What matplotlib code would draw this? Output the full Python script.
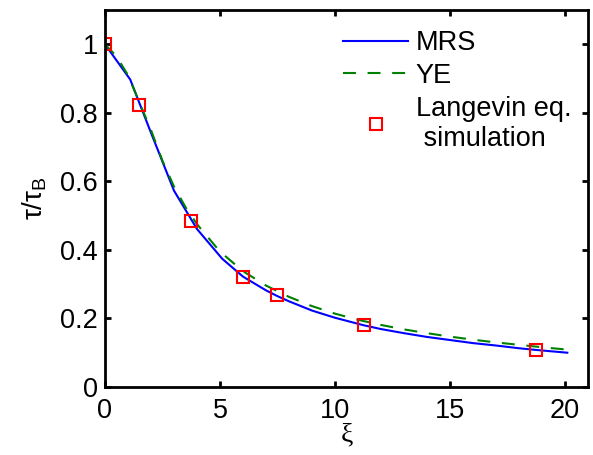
import numpy as np
import matplotlib
matplotlib.use('Agg')
import matplotlib.pyplot as plt

plt.rcParams['font.family'] = ['Liberation Sans', 'DejaVu Sans']
plt.rcParams['mathtext.fontset'] = 'custom'
plt.rcParams['mathtext.rm'] = 'Liberation Sans'
plt.rcParams['mathtext.it'] = 'Liberation Sans'

# MRS curve
xi_mrs = [0, 1.1, 2, 3, 4, 5.1, 6, 7, 7.5, 8, 9, 10, 11.25, 12, 13, 14, 15, 16, 17, 18, 18.75, 20.1]
tau_mrs = [1.0, 0.897, 0.742, 0.573, 0.461, 0.374, 0.322, 0.282, 0.265, 0.250, 0.223, 0.202,
           0.180, 0.169, 0.157, 0.146, 0.137, 0.128, 0.121, 0.113, 0.108, 0.100]

# YE curve
xi_ye = [0, 0.5, 1, 1.5, 2, 2.5, 3, 3.5, 4, 5, 6, 7, 8, 9, 10, 11, 12, 13, 14, 15, 16, 17, 18, 19, 20.1]
tau_ye = [1.0, 0.965, 0.91, 0.83, 0.75, 0.66, 0.585, 0.525, 0.475, 0.395, 0.338, 0.296, 0.263,
          0.236, 0.214, 0.196, 0.181, 0.168, 0.157, 0.147, 0.138, 0.130, 0.123, 0.116, 0.109]

# Langevin eq. simulation
xi_sim = [0, 1.5, 3.75, 6, 7.5, 11.25, 18.75]
tau_sim = [1.0, 0.822, 0.485, 0.322, 0.267, 0.182, 0.108]

fig = plt.figure(figsize=(5.93, 4.55), dpi=100)
ax = fig.add_axes([0.177, 0.1495, 0.8146, 0.8285])

ax.plot(xi_mrs, tau_mrs, color='#0000ff', lw=1.5, label='MRS')
ax.plot(xi_ye, tau_ye, color='#008000', lw=1.5, ls=(0, (6.2, 5.6)), label='YE')
ax.plot(xi_sim, tau_sim, ls='none', marker='s', ms=8, mfc='none', mec='#ff0000', mew=1.5,
        label='Langevin eq.\n simulation')

ax.set_xlim(0, 21)
ax.set_ylim(0, 1.1)
ax.set_xticks([0, 5, 10, 15, 20])
ax.set_yticks([0, 0.2, 0.4, 0.6, 0.8, 1.0])
ax.set_yticklabels(['0', '0.2', '0.4', '0.6', '0.8', '1'])

for s in ax.spines.values():
    s.set_linewidth(2)
ax.tick_params(direction='in', length=4, width=2, top=True, right=True, labelsize=19.5)
ax.tick_params(axis='x', pad=8)
ax.tick_params(axis='y', pad=5)

ax.set_xlabel('ξ', fontsize=20, family='Liberation Serif', labelpad=-1)
ax.set_ylabel(r'$\tau/\tau_\mathrm{B}$', fontsize=20, labelpad=8)

ax.legend(loc='upper left', frameon=False, fontsize=19.5, handlelength=2.4, handletextpad=0.28,
          labelspacing=0.25, borderpad=0, borderaxespad=0, bbox_to_anchor=(0.493, 0.947))

fig.savefig('out.png', dpi=100)
